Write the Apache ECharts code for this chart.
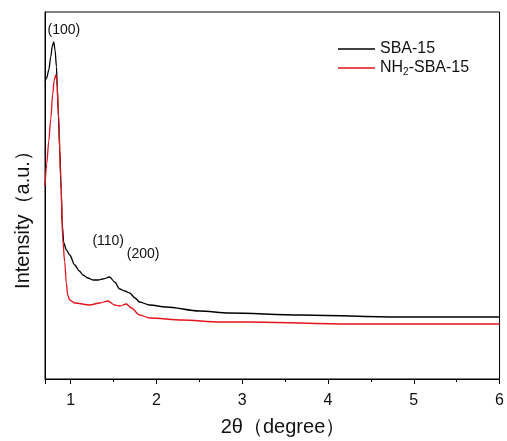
<!DOCTYPE html>
<html>
<head>
<meta charset="utf-8">
<script src="https://cdn.jsdelivr.net/npm/echarts@6/dist/echarts.min.js"></script>
<style>html,body{margin:0;padding:0;background:#fff}#c{width:507px;height:441px}</style>
</head>
<body>
<div id="c"></div>
<script>
// 2θ (degree) and intensity (a.u.)
const sbaX = [0.70,0.72,0.744,0.767,0.785,0.802,0.817,0.834,0.843,0.854,0.872,0.889,0.901,0.919,0.95,0.988,1.047,1.10,1.143,1.20,1.26,1.32,1.376,1.454,1.512,1.57,1.629,1.687,1.75,1.803,1.92,2.114,2.50,2.85,3.67,4.83,6.0];
const sbaY = [298,301,309,322,333,337,329,312,291,269,229,189,154,136,129,124,114,108,104,101,99,99,100,102,97,90,88,86,81,77,74,72,68,66,64,62,62];
const nh2X = [0.70,0.72,0.744,0.767,0.79,0.808,0.825,0.837,0.86,0.884,0.907,0.93,0.948,0.965,0.988,1.047,1.221,1.338,1.434,1.512,1.57,1.648,1.707,1.803,1.92,2.30,2.735,3.08,4.25,6.0];
const nh2Y = [193,215,238,260,285,299,304,299,259,199,139,117,96,84,79,76,74,76,78,74,73,75,71,64,61,59,57,57,55,55];
const seriesNames = ['SBA-15','NH2-SBA-15'];
const peakLabels = [
  {text:'(100)', x:0.92, y:348.5},
  {text:'(110)', x:1.437, y:138},
  {text:'(200)', x:1.844, y:124.5}
];

const zip = (xs, ys) => xs.map((x,i)=>[x, ys[i]]);
const chart = echarts.init(document.getElementById('c'), null, {renderer:'canvas'});
const font = 'Arial, "Liberation Sans", sans-serif';
chart.setOption({
  animation:false,
  backgroundColor:'#fff',
  grid:{left:45,right:7,top:12,bottom:62,show:true,borderColor:'#000',borderWidth:1,backgroundColor:'transparent'},
  legend:{
    orient:'vertical', left:338, top:41, itemGap:2, padding:0,
    itemWidth:37, itemHeight:1.6, icon:'rect',
    data:seriesNames,
    formatter:n=> n==='NH2-SBA-15' ? '{a|NH}{s|2}{a|-SBA-15}' : '{a|'+n+'}',
    textStyle:{fontFamily:font,color:'#111',
      rich:{a:{fontSize:16,fontFamily:font,color:'#111',lineHeight:18},
            s:{fontSize:10,fontFamily:font,color:'#111',verticalAlign:'bottom',lineHeight:18,padding:[8,0,0,0]}}}
  },
  xAxis:{
    type:'value', min:0.7, max:6, position:'bottom',
    axisLine:{show:true,onZero:false,lineStyle:{color:'#000',width:1}},
    axisTick:{show:true,inside:false,length:5,lineStyle:{color:'#000'}},
    minorTick:{show:true,splitNumber:2,length:3,lineStyle:{color:'#000'}},
    axisLabel:{show:true,margin:14,showMinLabel:false,fontSize:16,fontFamily:font,color:'#111'},
    splitLine:{show:false}
  },
  yAxis:{
    type:'value', min:0, max:367,
    axisLine:{show:true,lineStyle:{color:'#000',width:1}},
    axisTick:{show:false}, axisLabel:{show:false}, splitLine:{show:false}
  },
  graphic:[
    {type:'text', x:23, y:215, rotation:Math.PI/2, style:{text:'Intensity（a.u.）', fontSize:20, fontFamily:font, fill:'#111', textAlign:'center', textVerticalAlign:'middle'}},
    {type:'text', x:283, y:427, style:{text:'2θ（degree）', fontSize:20, fontFamily:font, fill:'#111', textAlign:'center', textVerticalAlign:'middle'}}
  ],
  series:[
    {name:seriesNames[0], type:'line', data:zip(sbaX,sbaY), showSymbol:false, symbol:'none', smooth:0.3, smoothMonotone:'x',
     lineStyle:{color:'#000',width:1.3}, itemStyle:{color:'#000'},
     markPoint:{symbol:'circle',symbolSize:0,silent:true,
       data:peakLabels.map(p=>({coord:[p.x,p.y], label:{show:true,position:'inside',formatter:p.text,fontSize:14,fontFamily:font,color:'#111'}}))}},
    {name:seriesNames[1], type:'line', data:zip(nh2X,nh2Y), showSymbol:false, symbol:'none', smooth:0.3, smoothMonotone:'x',
     lineStyle:{color:'#e0141c',width:1.3}, itemStyle:{color:'#e0141c'}}
  ]
});
</script>
</body>
</html>
